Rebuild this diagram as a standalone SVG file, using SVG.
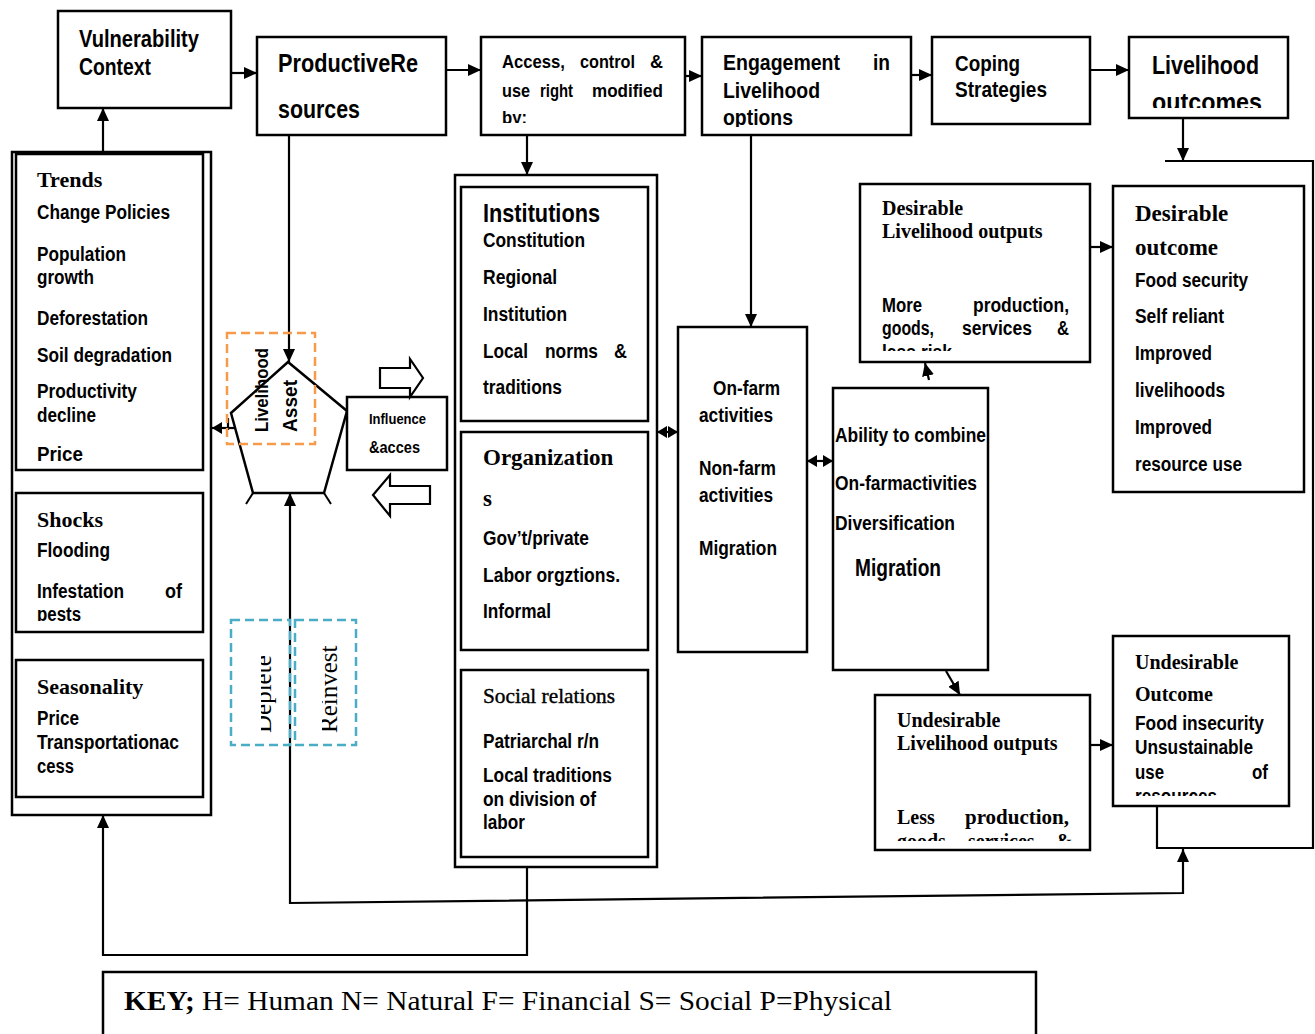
<svg xmlns="http://www.w3.org/2000/svg" width="1315" height="1034" viewBox="0 0 1315 1034">
<style>
.box{fill:#fff;stroke:#000;stroke-width:2.5}
.fr{fill:none;stroke:#000;stroke-width:2.5}
.ln{fill:none;stroke:#000;stroke-width:2.2}
.sb{font-family:"Liberation Sans",Arial,sans-serif;font-weight:bold;fill:#000}
.tb{font-family:"Liberation Serif","Times New Roman",serif;font-weight:bold;fill:#000}
.tr{font-family:"Liberation Serif","Times New Roman",serif;fill:#000}
.or{fill:none;stroke:#F79A4A;stroke-width:2.5;stroke-dasharray:9 5}
.bl{fill:none;stroke:#4BACC6;stroke-width:2.5;stroke-dasharray:9 5}
.ha{fill:#fff;stroke:#000;stroke-width:2.2}
</style>
<defs>
<marker id="ar" markerUnits="userSpaceOnUse" markerWidth="14" markerHeight="12" refX="13" refY="6" orient="auto-start-reverse">
<path d="M0,0 L13,6 L0,12 Z" fill="#000"/>
</marker>
<marker id="as" markerUnits="userSpaceOnUse" markerWidth="11" markerHeight="12" refX="10" refY="6" orient="auto-start-reverse">
<path d="M0,0 L10,6 L0,12 Z" fill="#000"/>
</marker>
<clipPath id="cAcc"><rect x="481" y="37" width="204" height="86"/></clipPath>
<clipPath id="cEng"><rect x="702" y="37" width="209" height="90"/></clipPath>
<clipPath id="cLO"><rect x="1129" y="37" width="159" height="71"/></clipPath>
<clipPath id="cTr"><rect x="16" y="154" width="187" height="309"/></clipPath>
<clipPath id="cSh"><rect x="16" y="493" width="187" height="128"/></clipPath>
<clipPath id="cDO"><rect x="860" y="184" width="230" height="167"/></clipPath>
<clipPath id="cUO"><rect x="875" y="695" width="215" height="146"/></clipPath>
<clipPath id="cUC"><rect x="1113" y="636" width="176" height="160"/></clipPath>
<clipPath id="cDe"><rect x="261" y="620" width="29" height="125"/></clipPath>
<clipPath id="cRe"><rect x="322" y="620" width="34" height="125"/></clipPath>
</defs>

<g id="connectors">
<line class="ln" x1="231" y1="73" x2="257" y2="73" marker-end="url(#ar)"/>
<line class="ln" x1="446" y1="70" x2="481" y2="70" marker-end="url(#ar)"/>
<line class="ln" x1="680" y1="76" x2="702" y2="76" marker-end="url(#ar)"/>
<line class="ln" x1="911" y1="75" x2="932" y2="75" marker-end="url(#ar)"/>
<line class="ln" x1="1090" y1="70" x2="1129" y2="70" marker-end="url(#ar)"/>
<line class="ln" x1="1183" y1="118" x2="1183" y2="161" marker-end="url(#ar)"/>
<polyline class="ln" points="1165,161 1313,161 1313,848 1157,848 1157,806"/>
<line class="ln" x1="103" y1="152" x2="103" y2="108" marker-end="url(#ar)"/>
<line class="ln" x1="289" y1="135" x2="289" y2="362" marker-end="url(#ar)"/>
<line class="ln" x1="527" y1="135" x2="527" y2="175" marker-end="url(#ar)"/>
<line class="ln" x1="751" y1="112" x2="751" y2="327" marker-end="url(#ar)"/>
<polyline class="ln" points="527,867 527,955 103,955 103,815" marker-end="url(#ar)"/>
<polyline class="ln" points="290,493 290,903 1183,893 1183,849" marker-start="url(#ar)" marker-end="url(#ar)"/>
<line class="ln" x1="657" y1="432" x2="678" y2="432" marker-start="url(#as)" marker-end="url(#as)"/>
<line class="ln" x1="807" y1="461" x2="833" y2="461" marker-start="url(#as)" marker-end="url(#as)"/>
<line class="ln" x1="929" y1="380" x2="925" y2="363" marker-end="url(#ar)"/>
<line class="ln" x1="946" y1="671" x2="960" y2="695" marker-end="url(#ar)"/>
<line class="ln" x1="1090" y1="247" x2="1113" y2="247" marker-end="url(#ar)"/>
<line class="ln" x1="1090" y1="745" x2="1113" y2="745" marker-end="url(#ar)"/>
<line class="ln" x1="235" y1="428" x2="212" y2="428" marker-end="url(#as)"/>
<line class="ln" x1="228" y1="418" x2="228" y2="430"/>
</g>

<g id="vulnerability-context">
<rect class="box" x="58" y="11" width="173" height="97"/>
<text class="sb" x="79" y="47" font-size="24" textLength="120" lengthAdjust="spacingAndGlyphs">Vulnerability</text>
<text class="sb" x="79" y="75" font-size="24" textLength="72" lengthAdjust="spacingAndGlyphs">Context</text>
</g>

<g id="productive-resources">
<rect class="box" x="257" y="37" width="189" height="98"/>
<text class="sb" x="278" y="72" font-size="25" textLength="140" lengthAdjust="spacingAndGlyphs">ProductiveRe</text>
<text class="sb" x="278" y="118" font-size="25" textLength="82" lengthAdjust="spacingAndGlyphs">sources</text>
</g>

<g id="access-control">
<rect class="box" x="481" y="37" width="204" height="98"/>
<g clip-path="url(#cAcc)">
<text class="sb" x="502" y="68" font-size="19" textLength="63" lengthAdjust="spacingAndGlyphs">Access,</text>
<text class="sb" x="580" y="68" font-size="19" textLength="55" lengthAdjust="spacingAndGlyphs">control</text>
<text class="sb" x="650" y="68" font-size="19" textLength="13" lengthAdjust="spacingAndGlyphs">&amp;</text>
<text class="sb" x="502" y="97" font-size="19" textLength="28" lengthAdjust="spacingAndGlyphs">use</text>
<text class="sb" x="540" y="97" font-size="19" textLength="33" lengthAdjust="spacingAndGlyphs">right</text>
<text class="sb" x="592" y="97" font-size="19" textLength="71" lengthAdjust="spacingAndGlyphs">modified</text>
<text class="sb" x="502" y="124" font-size="19" textLength="25" lengthAdjust="spacingAndGlyphs">by:</text>
</g>
</g>

<g id="engagement">
<rect class="box" x="702" y="37" width="209" height="98"/>
<g clip-path="url(#cEng)">
<text class="sb" x="723" y="70" font-size="22" textLength="117" lengthAdjust="spacingAndGlyphs">Engagement</text>
<text class="sb" x="873" y="70" font-size="22" textLength="17" lengthAdjust="spacingAndGlyphs">in</text>
<text class="sb" x="723" y="98" font-size="22" textLength="97" lengthAdjust="spacingAndGlyphs">Livelihood</text>
<text class="sb" x="723" y="125" font-size="22" textLength="70" lengthAdjust="spacingAndGlyphs">options</text>
</g>
</g>

<g id="coping-strategies">
<rect class="box" x="932" y="37" width="158" height="87"/>
<text class="sb" x="955" y="71" font-size="22" textLength="65" lengthAdjust="spacingAndGlyphs">Coping</text>
<text class="sb" x="955" y="97" font-size="22" textLength="92" lengthAdjust="spacingAndGlyphs">Strategies</text>
</g>

<g id="livelihood-outcomes">
<rect class="box" x="1129" y="37" width="159" height="81"/>
<g clip-path="url(#cLO)">
<text class="sb" x="1152" y="74" font-size="26" textLength="107" lengthAdjust="spacingAndGlyphs">Livelihood</text>
<text class="sb" x="1152" y="111" font-size="26" textLength="110" lengthAdjust="spacingAndGlyphs">outcomes</text>
</g>
</g>

<g id="vulnerability-column">
<rect class="fr" x="12" y="152" width="199" height="663"/>
</g>

<g id="trends">
<rect class="box" x="16" y="154" width="187" height="316"/>
<text class="tb" x="37" y="187" font-size="22">Trends</text>
<g clip-path="url(#cTr)">
<text class="sb" x="37" y="219" font-size="20" textLength="133" lengthAdjust="spacingAndGlyphs">Change Policies</text>
<text class="sb" x="37" y="261" font-size="20" textLength="89" lengthAdjust="spacingAndGlyphs">Population</text>
<text class="sb" x="37" y="284" font-size="20" textLength="57" lengthAdjust="spacingAndGlyphs">growth</text>
<text class="sb" x="37" y="325" font-size="20" textLength="111" lengthAdjust="spacingAndGlyphs">Deforestation</text>
<text class="sb" x="37" y="362" font-size="20" textLength="135" lengthAdjust="spacingAndGlyphs">Soil degradation</text>
<text class="sb" x="37" y="398" font-size="20" textLength="100" lengthAdjust="spacingAndGlyphs">Productivity</text>
<text class="sb" x="37" y="422" font-size="20" textLength="59" lengthAdjust="spacingAndGlyphs">decline</text>
<text class="sb" x="37" y="461" font-size="20" textLength="46" lengthAdjust="spacingAndGlyphs">Price</text>
</g>
</g>

<g id="shocks">
<rect class="box" x="16" y="493" width="187" height="139"/>
<text class="tb" x="37" y="527" font-size="22">Shocks</text>
<g clip-path="url(#cSh)">
<text class="sb" x="37" y="557" font-size="20" textLength="73" lengthAdjust="spacingAndGlyphs">Flooding</text>
<text class="sb" x="37" y="598" font-size="20" textLength="87" lengthAdjust="spacingAndGlyphs">Infestation</text>
<text class="sb" x="165" y="598" font-size="20" textLength="17" lengthAdjust="spacingAndGlyphs">of</text>
<text class="sb" x="37" y="621" font-size="20" textLength="44" lengthAdjust="spacingAndGlyphs">pests</text>
</g>
</g>

<g id="seasonality">
<rect class="box" x="16" y="660" width="187" height="137"/>
<text class="tb" x="37" y="694" font-size="22">Seasonality</text>
<text class="sb" x="37" y="725" font-size="20" textLength="42" lengthAdjust="spacingAndGlyphs">Price</text>
<text class="sb" x="37" y="749" font-size="20" textLength="142" lengthAdjust="spacingAndGlyphs">Transportationac</text>
<text class="sb" x="37" y="773" font-size="20" textLength="37" lengthAdjust="spacingAndGlyphs">cess</text>
</g>

<g id="livelihood-asset">
<polygon points="288,362 231,413 253,493 324,493 347,411" fill="none" stroke="#000" stroke-width="2.5"/>
<line x1="253" y1="493" x2="246" y2="504" stroke="#000" stroke-width="2"/>
<line x1="324" y1="493" x2="331" y2="504" stroke="#000" stroke-width="2"/>
<line x1="347" y1="418" x2="356" y2="418" stroke="#000" stroke-width="2"/>
<rect class="or" x="227" y="333" width="88" height="111"/>
<text class="sb" transform="translate(268,432) rotate(-90)" font-size="19" textLength="84" lengthAdjust="spacingAndGlyphs">Livelihood</text>
<text class="sb" transform="translate(297,432) rotate(-90)" font-size="20" textLength="52" lengthAdjust="spacingAndGlyphs">Asset</text>
</g>

<g id="influence-access">
<rect class="box" x="347" y="397" width="100" height="73"/>
<text class="sb" x="369" y="424" font-size="14" textLength="57" lengthAdjust="spacingAndGlyphs">Influence</text>
<text class="sb" x="369" y="453" font-size="16" textLength="51" lengthAdjust="spacingAndGlyphs">&amp;acces</text>
<path class="ha" d="M380,368 L410,368 L410,359 L423,378 L410,397 L410,388 L380,388 Z"/>
<path class="ha" d="M430,486 L390,486 L390,475 L373,495 L390,516 L390,504 L430,504 Z"/>
</g>

<g id="deplete">
<rect class="bl" x="231" y="620" width="59" height="125"/>
<g clip-path="url(#cDe)">
<text class="tr" transform="translate(271,733) rotate(-90)" font-size="25">Deplete</text>
</g>
</g>

<g id="reinvest">
<rect class="bl" x="295" y="620" width="61" height="125"/>
<g clip-path="url(#cRe)">
<text class="tr" transform="translate(337,733) rotate(-90)" font-size="25">Reinvest</text>
</g>
</g>

<g id="transforming-structures">
<rect class="fr" x="455" y="175" width="202" height="692"/>
</g>

<g id="institutions">
<rect class="box" x="461" y="187" width="187" height="234"/>
<text class="sb" x="483" y="222" font-size="25" textLength="117" lengthAdjust="spacingAndGlyphs">Institutions</text>
<text class="sb" x="483" y="247" font-size="20" textLength="102" lengthAdjust="spacingAndGlyphs">Constitution</text>
<text class="sb" x="483" y="284" font-size="20" textLength="74" lengthAdjust="spacingAndGlyphs">Regional</text>
<text class="sb" x="483" y="321" font-size="20" textLength="84" lengthAdjust="spacingAndGlyphs">Institution</text>
<text class="sb" x="483" y="358" font-size="20" textLength="45" lengthAdjust="spacingAndGlyphs">Local</text>
<text class="sb" x="545" y="358" font-size="20" textLength="53" lengthAdjust="spacingAndGlyphs">norms</text>
<text class="sb" x="614" y="358" font-size="20" textLength="13" lengthAdjust="spacingAndGlyphs">&amp;</text>
<text class="sb" x="483" y="394" font-size="20" textLength="79" lengthAdjust="spacingAndGlyphs">traditions</text>
</g>

<g id="organizations">
<rect class="box" x="461" y="432" width="187" height="218"/>
<text class="tb" x="483" y="465" font-size="23">Organization</text>
<text class="tb" x="483" y="506" font-size="23">s</text>
<text class="sb" x="483" y="545" font-size="20" textLength="106" lengthAdjust="spacingAndGlyphs">Gov’t/private</text>
<text class="sb" x="483" y="582" font-size="20" textLength="137" lengthAdjust="spacingAndGlyphs">Labor orgztions.</text>
<text class="sb" x="483" y="618" font-size="20" textLength="68" lengthAdjust="spacingAndGlyphs">Informal</text>
</g>

<g id="social-relations">
<rect class="box" x="461" y="670" width="187" height="187"/>
<text class="tr" x="483" y="703" font-size="21" textLength="132" lengthAdjust="spacingAndGlyphs" stroke="#000" stroke-width="0.4">Social relations</text>
<text class="sb" x="483" y="748" font-size="20" textLength="116" lengthAdjust="spacingAndGlyphs">Patriarchal r/n</text>
<text class="sb" x="483" y="782" font-size="20" textLength="129" lengthAdjust="spacingAndGlyphs">Local traditions</text>
<text class="sb" x="483" y="806" font-size="20" textLength="113" lengthAdjust="spacingAndGlyphs">on division of</text>
<text class="sb" x="483" y="829" font-size="20" textLength="42" lengthAdjust="spacingAndGlyphs">labor</text>
</g>

<g id="activities">
<rect class="box" x="678" y="327" width="129" height="325"/>
<text class="sb" x="713" y="395" font-size="20" textLength="67" lengthAdjust="spacingAndGlyphs">On-farm</text>
<text class="sb" x="699" y="422" font-size="20" textLength="74" lengthAdjust="spacingAndGlyphs">activities</text>
<text class="sb" x="699" y="475" font-size="20" textLength="77" lengthAdjust="spacingAndGlyphs">Non-farm</text>
<text class="sb" x="699" y="502" font-size="20" textLength="74" lengthAdjust="spacingAndGlyphs">activities</text>
<text class="sb" x="699" y="555" font-size="20" textLength="78" lengthAdjust="spacingAndGlyphs">Migration</text>
</g>

<g id="ability-to-combine">
<rect class="box" x="833" y="388" width="155" height="282"/>
<text class="sb" x="835" y="442" font-size="20" textLength="151" lengthAdjust="spacingAndGlyphs">Ability to combine</text>
<text class="sb" x="835" y="490" font-size="20" textLength="142" lengthAdjust="spacingAndGlyphs">On-farmactivities</text>
<text class="sb" x="835" y="530" font-size="20" textLength="120" lengthAdjust="spacingAndGlyphs">Diversification</text>
<text class="sb" x="855" y="576" font-size="23" textLength="86" lengthAdjust="spacingAndGlyphs">Migration</text>
</g>

<g id="desirable-outputs">
<rect class="box" x="860" y="184" width="230" height="178"/>
<text class="tb" x="882" y="215" font-size="20">Desirable</text>
<text class="tb" x="882" y="238" font-size="20">Livelihood outputs</text>
<g clip-path="url(#cDO)">
<text class="sb" x="882" y="312" font-size="20" textLength="40" lengthAdjust="spacingAndGlyphs">More</text>
<text class="sb" x="973" y="312" font-size="20" textLength="96" lengthAdjust="spacingAndGlyphs">production,</text>
<text class="sb" x="882" y="335" font-size="20" textLength="52" lengthAdjust="spacingAndGlyphs">goods,</text>
<text class="sb" x="962" y="335" font-size="20" textLength="70" lengthAdjust="spacingAndGlyphs">services</text>
<text class="sb" x="1057" y="335" font-size="20" textLength="12" lengthAdjust="spacingAndGlyphs">&amp;</text>
<text class="sb" x="882" y="359" font-size="20" textLength="70" lengthAdjust="spacingAndGlyphs">less risk</text>
</g>
</g>

<g id="desirable-outcome">
<rect class="box" x="1113" y="186" width="191" height="306"/>
<text class="tb" x="1135" y="221" font-size="23">Desirable</text>
<text class="tb" x="1135" y="255" font-size="23">outcome</text>
<text class="sb" x="1135" y="287" font-size="20" textLength="113" lengthAdjust="spacingAndGlyphs">Food security</text>
<text class="sb" x="1135" y="323" font-size="20" textLength="89" lengthAdjust="spacingAndGlyphs">Self reliant</text>
<text class="sb" x="1135" y="360" font-size="20" textLength="77" lengthAdjust="spacingAndGlyphs">Improved</text>
<text class="sb" x="1135" y="397" font-size="20" textLength="90" lengthAdjust="spacingAndGlyphs">livelihoods</text>
<text class="sb" x="1135" y="434" font-size="20" textLength="77" lengthAdjust="spacingAndGlyphs">Improved</text>
<text class="sb" x="1135" y="471" font-size="20" textLength="107" lengthAdjust="spacingAndGlyphs">resource use</text>
</g>

<g id="undesirable-outputs">
<rect class="box" x="875" y="695" width="215" height="155"/>
<text class="tb" x="897" y="727" font-size="20">Undesirable</text>
<text class="tb" x="897" y="750" font-size="20">Livelihood outputs</text>
<g clip-path="url(#cUO)">
<text class="tb" x="897" y="824" font-size="20">Less</text>
<text class="tb" x="965" y="824" font-size="20" textLength="104" lengthAdjust="spacingAndGlyphs">production,</text>
<text class="tb" x="897" y="848" font-size="20">goods,</text>
<text class="tb" x="968" y="848" font-size="20">services</text>
<text class="tb" x="1056" y="848" font-size="20">&amp;</text>
</g>
</g>

<g id="undesirable-outcome">
<rect class="box" x="1113" y="636" width="176" height="170"/>
<text class="tb" x="1135" y="669" font-size="20">Undesirable</text>
<text class="tb" x="1135" y="701" font-size="20">Outcome</text>
<g clip-path="url(#cUC)">
<text class="sb" x="1135" y="730" font-size="20" textLength="129" lengthAdjust="spacingAndGlyphs">Food insecurity</text>
<text class="sb" x="1135" y="754" font-size="20" textLength="118" lengthAdjust="spacingAndGlyphs">Unsustainable</text>
<text class="sb" x="1135" y="779" font-size="20" textLength="29" lengthAdjust="spacingAndGlyphs">use</text>
<text class="sb" x="1252" y="779" font-size="20" textLength="16" lengthAdjust="spacingAndGlyphs">of</text>
<text class="sb" x="1135" y="803" font-size="20" textLength="82" lengthAdjust="spacingAndGlyphs">resources</text>
</g>
</g>

<g id="key">
<rect class="box" x="103" y="972" width="933" height="70"/>
<text class="tr" x="124" y="1010" font-size="28" textLength="768" lengthAdjust="spacingAndGlyphs"><tspan font-weight="bold">KEY;</tspan> H= Human N= Natural F= Financial S= Social P=Physical</text>
</g>
</svg>
